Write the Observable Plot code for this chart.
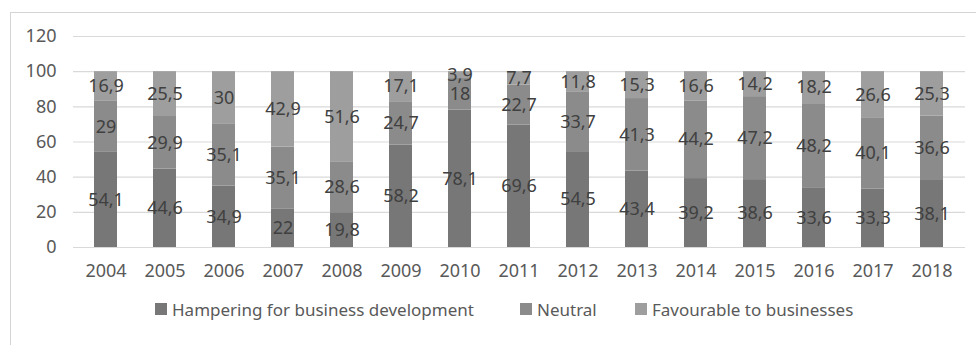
<!DOCTYPE html>
<html>
<head>
<meta charset="utf-8">
<script src="https://cdn.jsdelivr.net/npm/d3@7"></script>
<script src="https://cdn.jsdelivr.net/npm/@observablehq/plot@0.6"></script>
<style>
  html, body { margin: 0; padding: 0; background: #fff; }
  #wrap { position: relative; width: 976px; height: 345px; overflow: hidden; font-family: "Noto Sans", sans-serif; }
  #frame { position: absolute; left: 10px; top: 12px; width: 1000px; height: 400px; border-top: 1.5px solid #d4d4d4; border-left: 1.5px solid #d4d4d4; }
  #chart { position: absolute; left: 0; top: 0; }
  #legend { position: absolute; left: 0; top: 296px; width: 976px; height: 30px; }
  .item { position: absolute; top: 0; display: flex; align-items: center; height: 26px; font-size: 17px; color: #595959; white-space: nowrap; }
  .sw { width: 12px; height: 12px; margin-right: 5px; }
</style>
</head>
<body>
<div id="wrap">
  <div id="frame"></div>
  <div id="chart"></div>
  <div id="legend"></div>
</div>
<script>
const years = ["2004","2005","2006","2007","2008","2009","2010","2011","2012","2013","2014","2015","2016","2017","2018"];
const seriesNames = ["Hampering for business development", "Neutral", "Favourable to businesses"];
const hampering = [54.1, 44.6, 34.9, 22, 19.8, 58.2, 78.1, 69.6, 54.5, 43.4, 39.2, 38.6, 33.6, 33.3, 38.1];
const neutral = [29, 29.9, 35.1, 35.1, 28.6, 24.7, 18, 22.7, 33.7, 41.3, 44.2, 47.2, 48.2, 40.1, 36.6];
const favourable = [16.9, 25.5, 30, 42.9, 51.6, 17.1, 3.9, 7.7, 11.8, 15.3, 16.6, 14.2, 18.2, 26.6, 25.3];
const yTicks = [0, 20, 40, 60, 80, 100, 120];
const colors = ["#777777", "#8b8b8b", "#9e9e9e"];

const seriesValues = [hampering, neutral, favourable];
const data = [];
years.forEach((yr, i) => {
  seriesNames.forEach((s, j) => {
    data.push({year: yr, series: s, value: seriesValues[j][i]});
  });
});
const fmt = v => String(v).replace(".", ",");

const plot = Plot.plot({
  width: 976,
  height: 290,
  marginTop: 36,
  marginBottom: 43,
  marginLeft: 73,
  marginRight: 11,
  style: {fontFamily: "Noto Sans, sans-serif", fontSize: "18px", color: "#595959", background: "transparent"},
  x: {domain: years, paddingInner: 0.61, paddingOuter: 0.305, label: null},
  y: {domain: [0, 120], label: null},
  color: {domain: seriesNames, range: colors},
  marks: [
    Plot.ruleY(yTicks, {stroke: "#d9d9d9", strokeWidth: 1.2}),
    Plot.barY(data, Plot.stackY({x: "year", y: "value", z: "series", fill: "series"})),
    Plot.text(data, Plot.stackY({x: "year", y: "value", z: "series", text: d => fmt(d.value), fill: "#404040", fontSize: 18})),
    Plot.axisX({tickSize: 0, tickPadding: 17, fontSize: 18, fill: "#595959"}),
    Plot.axisY({ticks: yTicks, tickSize: 0, tickPadding: 17, fontSize: 18, fill: "#595959"})
  ]
});
document.getElementById("chart").appendChild(plot);

const legendPos = [155, 520, 635];
const legend = document.getElementById("legend");
seriesNames.forEach((s, j) => {
  const it = document.createElement("div");
  it.className = "item";
  it.style.left = legendPos[j] + "px";
  const sw = document.createElement("span");
  sw.className = "sw";
  sw.style.background = colors[j];
  const t = document.createElement("span");
  t.textContent = s;
  it.appendChild(sw);
  it.appendChild(t);
  legend.appendChild(it);
});
</script>
</body>
</html>
